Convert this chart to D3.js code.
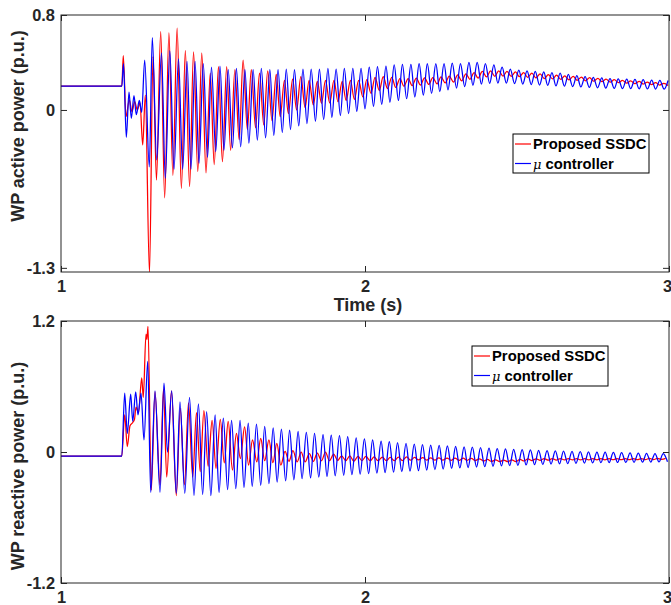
<!DOCTYPE html>
<html><head><meta charset="utf-8">
<script src="https://cdn.jsdelivr.net/npm/d3@7"></script>
<style>
body{margin:0;background:#fff}
svg{display:block}
text{font-family:"Liberation Sans",Arial,Helvetica,sans-serif}
</style>
</head><body>
<svg id="chart" width="671" height="605"></svg>
<script>
// ---------------- data ----------------
const xTicks = [1, 2, 3];
const xTickLabels = ["1", "2", "3"];
const yTicksTop = [-1.33, 0, 0.8];
const yTickLabelsTop = ["-1.3", "0", "0.8"];
const yTicksBot = [-1.2, 0, 1.2];
const yTickLabelsBot = ["-1.2", "0", "1.2"];
const seriesNames = ["Proposed SSDC", "controller"];
const xLabel = "Time (s)";
const yLabelTop = "WP active power (p.u.)";
const yLabelBot = "WP reactive power (p.u.)";

// Top panel: WP active power, blue = mu controller (time s, value p.u.)
const tBlueTop = [1.000,1.200,1.2056,1.2148,1.2237,1.2313,1.2401,1.2477,1.2576,1.2655,1.2753,1.2905,1.3003,1.3148,1.3306,1.3431,1.3579,1.3717,1.3865,1.4003,1.4145,1.4276,
1.441,1.454,1.468,1.482,1.495,1.509,1.523,1.536,1.550,1.564,
1.577,1.591,1.605,1.618,1.632,1.646,1.659,1.673,1.687,1.700,
1.714,1.728,1.741,1.755,1.768,1.782,1.796,1.809,1.823,1.837,
1.850,1.864,1.878,1.891,1.905,1.919,1.932,1.946,1.960,1.973,
1.987,2.000,2.014,2.028,2.041,2.055,2.069,2.082,2.096,2.110,
2.123,2.137,2.151,2.164,2.178,2.192,2.205,2.219,2.233,2.246,
2.260,2.273,2.287,2.301,2.314,2.328,2.342,2.355,2.369,2.383,
2.396,2.410,2.424,2.437,2.451,2.465,2.478,2.492,2.506,2.519,
2.533,2.547,2.560,2.574,2.588,2.601,2.615,2.628,2.642,2.656,
2.669,2.683,2.697,2.710,2.724,2.738,2.751,2.765,2.779,2.792,
2.806,2.820,2.833,2.847,2.861,2.874,2.888,2.902,2.915,2.929,
2.943,2.956,2.970,2.984,2.997];
const vBlueTop = [0.20,0.20,0.39,-0.23,0.15,-0.07,0.12,-0.04,0.08,-0.02,0.42,-0.48,0.61,-0.42,0.48,-0.575,0.50,-0.50,0.43,-0.50,0.41,-0.50,
0.41,-0.45,0.39,-0.40,0.36,-0.35,0.37,-0.34,0.34,-0.32,
0.35,-0.31,0.34,-0.28,0.34,-0.255,0.35,-0.235,0.34,-0.215,
0.34,-0.19,0.345,-0.165,0.34,-0.135,0.345,-0.115,0.345,-0.095,
0.345,-0.08,0.35,-0.062,0.345,-0.047,0.35,-0.03,0.35,-0.012,
0.35,0.01,0.36,0.03,0.365,0.048,0.37,0.065,0.38,0.08,
0.385,0.095,0.385,0.11,0.39,0.125,0.39,0.14,0.39,0.155,
0.39,0.17,0.395,0.185,0.39,0.197,0.40,0.207,0.40,0.217,
0.39,0.224,0.38,0.226,0.36,0.226,0.345,0.222,0.335,0.218,
0.33,0.214,0.325,0.21,0.32,0.207,0.315,0.203,0.31,0.2,
0.30,0.197,0.29,0.194,0.28,0.19,0.275,0.187,0.27,0.184,
0.265,0.181,0.262,0.18,0.26,0.179,0.258,0.178,0.255,0.177,
0.252,0.176,0.25,0.175,0.248];

// Top panel: red = Proposed SSDC
const tRedTop = [1.000,1.200,1.2049,1.2138,1.2247,1.2336,1.2424,1.2510,1.2599,1.2688,1.2773,1.2911,1.3026,
1.314,1.328,1.341,1.355,1.368,1.382,1.396,1.409,1.423,1.436,
1.450,1.463,1.477,1.491,1.504,1.518,1.531,1.545,1.558,1.572,
1.586,1.599,1.613,1.626,1.640,1.653,1.667,1.680,1.694,1.708,
1.721,1.735,1.748,1.762,1.775,1.789,1.803,1.816,1.830,1.843,
1.857,1.870,1.884,1.898,1.911,1.925,1.938,1.952,1.965,1.979,
1.993,2.006,2.020,2.033,2.047,2.060,2.074,2.088,2.101,2.115,
2.128,2.142,2.155,2.169,2.182,2.196,2.210,2.223,2.237,2.250,
2.264,2.277,2.291,2.305,2.318,2.332,2.345,2.359,2.372,2.386,
2.400,2.413,2.427,2.440,2.454,2.467,2.481,2.495,2.508,2.522,
2.535,2.549,2.562,2.576,2.590,2.603,2.617,2.630,2.644,2.657,
2.671,2.685,2.698,2.712,2.725,2.739,2.752,2.766,2.780,2.793,
2.807,2.820,2.834,2.847,2.861,2.874,2.888,2.902,2.915,2.929,
2.942,2.956,2.969,2.983,2.997];
const vRedTop = [0.20,0.20,0.457,-0.056,0.084,-0.014,0.07,0.0,0.06,-0.295,0.126,-1.37,0.45,
-0.59,0.66,-0.74,0.65,-0.55,0.69,-0.66,0.50,-0.645,0.49,
-0.52,0.48,-0.53,0.31,-0.46,0.365,-0.435,0.365,-0.34,0.34,
-0.25,0.42,-0.165,0.34,-0.15,0.31,-0.126,0.33,-0.09,0.30,
-0.056,0.25,-0.03,0.26,0.0,0.28,0.02,0.25,0.042,0.24,
0.056,0.25,0.06,0.25,0.07,0.24,0.08,0.25,0.09,0.25,
0.11,0.255,0.14,0.275,0.165,0.28,0.18,0.275,0.19,0.265,
0.20,0.265,0.205,0.268,0.21,0.27,0.215,0.272,0.22,0.278,
0.228,0.285,0.235,0.295,0.245,0.305,0.258,0.315,0.268,0.325,
0.278,0.33,0.283,0.33,0.285,0.325,0.283,0.32,0.28,0.315,
0.275,0.31,0.27,0.303,0.265,0.298,0.262,0.293,0.258,0.288,
0.254,0.282,0.25,0.277,0.246,0.272,0.242,0.266,0.238,0.26,
0.234,0.255,0.23,0.25,0.226,0.245,0.222,0.24,0.218,0.235,
0.214,0.23,0.21,0.225,0.206];

// Bottom panel: WP reactive power, blue = mu controller
const tBlueBot = [1.000,1.200,1.2095,1.2181,1.2293,1.2359,1.2457,1.2533,1.2632,1.2730,1.2852,1.2951,1.3092,1.3257,1.3388,1.3503,1.3641,1.3793,1.3914,1.4072,1.4227,1.4375,
1.452,1.466,1.479,1.493,1.507,1.520,1.534,1.548,1.561,1.575,
1.589,1.602,1.616,1.629,1.643,1.657,1.670,1.684,1.698,1.711,
1.725,1.739,1.752,1.766,1.780,1.793,1.807,1.821,1.834,1.848,
1.862,1.875,1.889,1.902,1.916,1.930,1.943,1.957,1.971,1.984,
1.998,2.012,2.025,2.039,2.053,2.066,2.080,2.094,2.107,2.121,
2.135,2.148,2.162,2.176,2.189,2.203,2.216,2.230,2.244,2.257,
2.271,2.285,2.298,2.312,2.326,2.339,2.353,2.367,2.380,2.394,
2.408,2.421,2.435,2.449,2.462,2.476,2.489,2.503,2.517,2.530,
2.544,2.558,2.571,2.585,2.599,2.612,2.626,2.640,2.653,2.667,
2.681,2.694,2.708,2.722,2.735,2.749,2.763,2.776,2.790,2.803,
2.817,2.831,2.844,2.858,2.872,2.885,2.899,2.913,2.926,2.940,
2.954,2.967,2.981,2.995];
const vBlueBot = [-0.037,-0.037,0.54,0.17,0.53,0.28,0.55,0.34,0.54,0.11,0.83,-0.37,0.56,-0.37,0.63,0.0,0.56,-0.38,0.46,-0.38,0.50,-0.40,
0.44,-0.39,0.37,-0.40,0.34,-0.37,0.31,-0.345,0.29,-0.335,
0.29,-0.325,0.265,-0.315,0.255,-0.305,0.235,-0.29,0.22,-0.275,
0.21,-0.265,0.20,-0.255,0.19,-0.245,0.18,-0.237,0.17,-0.23,
0.16,-0.224,0.155,-0.218,0.15,-0.213,0.14,-0.208,0.13,-0.203,
0.12,-0.198,0.11,-0.193,0.10,-0.189,0.095,-0.185,0.085,-0.18,
0.078,-0.176,0.073,-0.171,0.068,-0.166,0.064,-0.161,0.06,-0.156,
0.056,-0.151,0.052,-0.146,0.048,-0.142,0.044,-0.138,0.04,-0.134,
0.036,-0.131,0.032,-0.128,0.028,-0.125,0.025,-0.122,0.022,-0.119,
0.019,-0.116,0.016,-0.113,0.013,-0.11,0.01,-0.108,0.008,-0.106,
0.006,-0.104,0.004,-0.102,0.002,-0.1,0.0,-0.098,-0.002,-0.097,
-0.004,-0.096,-0.006,-0.095,-0.008,-0.094,-0.01,-0.093,-0.012,-0.092,
-0.014,-0.091,-0.016,-0.09];

// Bottom panel: red = Proposed SSDC
const tRedBot = [1.000,1.200,1.2095,1.2181,1.2270,1.2359,1.2418,1.2467,1.2549,1.2655,1.2707,1.2796,1.2826,1.2862,1.2970,1.3092,1.3257,1.3372,1.3477,1.3635,1.3793,1.3924,1.4062,1.4194,1.4332,1.4457,1.4579,
1.470,1.484,1.497,1.510,1.524,1.537,1.550,1.564,1.577,1.590,
1.604,1.617,1.630,1.644,1.657,1.670,1.684,1.697,1.710,1.723,
1.737,1.750,1.763,1.777,1.790,1.803,1.817,1.830,1.843,1.857,
1.870,1.883,1.897,1.910,1.923,1.937,1.950,1.963,1.977,1.990,
2.003,2.017,2.030,2.043,2.057,2.070,2.083,2.097,2.110,2.123,
2.137,2.150,2.163,2.176,2.190,2.203,2.216,2.230,2.243,2.256,
2.270,2.283,2.296,2.310,2.323,2.336,2.350,2.363,2.376,2.390,
2.403,2.416,2.430,2.443,2.456,2.470,2.483,2.496,2.510,2.523,
2.536,2.549,2.563,2.576,2.589,2.603,2.616,2.629,2.643,2.656,
2.669,2.683,2.696,2.709,2.723,2.736,2.749,2.763,2.776,2.789,
2.803,2.816,2.829,2.843,2.856,2.869,2.883,2.896,2.909,2.922,
2.936,2.949,2.962,2.976,2.989];
const vRedBot = [-0.037,-0.037,0.34,0.05,0.24,0.27,0.30,0.41,0.36,0.68,0.50,1.08,1.03,1.15,-0.35,0.55,-0.30,0.58,-0.23,0.56,-0.40,0.40,-0.30,0.45,-0.23,0.36,-0.18,
0.38,-0.13,0.29,-0.15,0.30,-0.10,0.28,-0.165,0.17,-0.06,
0.23,-0.12,0.11,-0.09,0.125,-0.08,0.11,-0.098,0.08,-0.12,
0.005,-0.085,0.012,-0.09,0.0,-0.09,-0.015,-0.085,-0.01,-0.08,
0.0,-0.08,-0.02,-0.078,-0.035,-0.08,-0.035,-0.085,-0.04,-0.08,
-0.04,-0.08,-0.045,-0.08,-0.047,-0.08,-0.049,-0.08,-0.048,-0.078,
-0.045,-0.075,-0.05,-0.073,-0.052,-0.074,-0.053,-0.075,-0.054,-0.075,
-0.055,-0.076,-0.056,-0.076,-0.057,-0.077,-0.058,-0.078,-0.062,-0.082,
-0.068,-0.086,-0.072,-0.088,-0.074,-0.089,-0.073,-0.088,-0.068,-0.082,
-0.064,-0.078,-0.062,-0.076,-0.061,-0.075,-0.06,-0.074,-0.06,-0.073,
-0.06,-0.073,-0.06,-0.072,-0.06,-0.072,-0.06,-0.071,-0.06,-0.071,
-0.06,-0.07,-0.06,-0.07,-0.06,-0.07,-0.06,-0.07,-0.06,-0.069,
-0.059,-0.069,-0.059,-0.068,-0.059];

// ---------------- drawing ----------------
const svg = d3.select("#chart");
const X0 = 61, X1 = 669;
const RED = "#ff0000", BLUE = "#0000ff";
const AXC = "#262626";
const TICKFONT = "16.4px", LABELFONT = "18px", LEGFONT = "14.8px";

function zip(t, v) {
  const n = Math.min(t.length, v.length);
  const out = [];
  for (let i = 0; i < n; i++) out.push([t[i], v[i]]);
  return out;
}

const panels = [
  { id: "top", top: 15, bot: 272, dom: [-1.365, 0.8], yt: yTicksTop, yl: yTickLabelsTop,
    ylabel: yLabelTop, ylabelY: 126, xpad: 8,
    series: [[tRedTop, vRedTop, RED], [tBlueTop, vBlueTop, BLUE]],
    legend: { x: 513, y: 134, w: 136, h: 39 }, timeLabel: true },
  { id: "bot", top: 321, bot: 583, dom: [-1.2, 1.2], yt: yTicksBot, yl: yTickLabelsBot,
    ylabel: yLabelBot, ylabelY: 466, xpad: 8,
    series: [[tRedBot, vRedBot, RED], [tBlueBot, vBlueBot, BLUE]],
    legend: { x: 472, y: 346, w: 136, h: 40 }, timeLabel: false }
];

panels.forEach(p => {
  const x = d3.scaleLinear().domain([1, 3]).range([X0, X1]);
  const y = d3.scaleLinear().domain(p.dom).range([p.bot, p.top]);
  const g = svg.append("g");

  g.append("clipPath").attr("id", "clip-" + p.id)
    .append("rect").attr("x", X0).attr("y", p.top).attr("width", X1 - X0).attr("height", p.bot - p.top);

  const line = d3.line().x(d => x(d[0])).y(d => y(d[1])).curve(d3.curveMonotoneX);
  const lg = g.append("g").attr("clip-path", "url(#clip-" + p.id + ")");
  p.series.forEach(s => {
    lg.append("path").datum(zip(s[0], s[1]))
      .attr("d", line).attr("fill", "none").attr("stroke", s[2])
      .attr("stroke-width", 1.25).attr("stroke-linejoin", "round");
  });

  // axes (ticks inward on all four sides)
  const axB = g.append("g").attr("transform", `translate(0,${p.bot})`)
    .call(d3.axisBottom(x).tickValues(xTicks).tickSize(-6).tickSizeOuter(0).tickPadding(p.xpad)
      .tickFormat((d, i) => xTickLabels[i]));
  const axT = g.append("g").attr("transform", `translate(0,${p.top})`)
    .call(d3.axisTop(x).tickValues(xTicks).tickSize(-6).tickSizeOuter(0).tickFormat(""));
  const axL = g.append("g").attr("transform", `translate(${X0},0)`)
    .call(d3.axisLeft(y).tickValues(p.yt).tickSize(-6).tickSizeOuter(0).tickPadding(6)
      .tickFormat((d, i) => p.yl[i]));
  const axR = g.append("g").attr("transform", `translate(${X1},0)`)
    .call(d3.axisRight(y).tickValues(p.yt).tickSize(-6).tickSizeOuter(0).tickFormat(""));
  [axB, axT, axL, axR].forEach(a => {
    a.select(".domain").remove();
    a.selectAll("line").attr("stroke", AXC).attr("stroke-width", 1);
    a.selectAll("text").attr("fill", AXC).style("font-size", TICKFONT).style("font-weight", "bold")
      .style("font-family", '"Liberation Sans",Arial,sans-serif');
  });
  // keep the last x tick label ("3") inside the window edge
  axB.selectAll(".tick text").filter((d, i) => i === xTicks.length - 1).attr("dx", -2);
  g.append("rect").attr("x", X0).attr("y", p.top).attr("width", X1 - X0).attr("height", p.bot - p.top)
    .attr("fill", "none").attr("stroke", AXC).attr("stroke-width", 1);

  // y label
  g.append("text").attr("transform", `translate(18,${p.ylabelY}) rotate(-90)`)
    .attr("text-anchor", "middle").attr("dominant-baseline", "central")
    .style("font-size", LABELFONT).style("font-weight", "bold").attr("fill", AXC)
    .text(p.ylabel);

  if (p.timeLabel) {
    g.append("text").attr("x", 368).attr("y", 311).attr("text-anchor", "middle")
      .style("font-size", LABELFONT).style("font-weight", "bold").attr("fill", AXC)
      .text(xLabel);
  }

  // legend
  const L = p.legend;
  const leg = g.append("g");
  leg.append("rect").attr("x", L.x).attr("y", L.y).attr("width", L.w).attr("height", L.h)
    .attr("fill", "#fff").attr("stroke", "#000").attr("stroke-width", 1);
  const rows = [L.y + 10, L.y + 29.5];
  [RED, BLUE].forEach((c, i) => {
    leg.append("line").attr("x1", L.x + 2).attr("x2", L.x + 18).attr("y1", rows[i]).attr("y2", rows[i])
      .attr("stroke", c).attr("stroke-width", 1.2);
    const t = leg.append("text").attr("x", L.x + 20).attr("y", rows[i] + 5.3)
      .style("font-size", LEGFONT).style("font-weight", "bold").attr("fill", "#000");
    if (i === 1) {
      t.append("tspan").style("font-style", "italic").style("font-weight", "normal")
        .style("font-family", '"DejaVu Serif",serif').style("font-size", "13px").text("μ");
      t.append("tspan").text(" " + seriesNames[1]);
    } else {
      t.text(seriesNames[0]);
    }
  });
});
</script>
</body></html>
